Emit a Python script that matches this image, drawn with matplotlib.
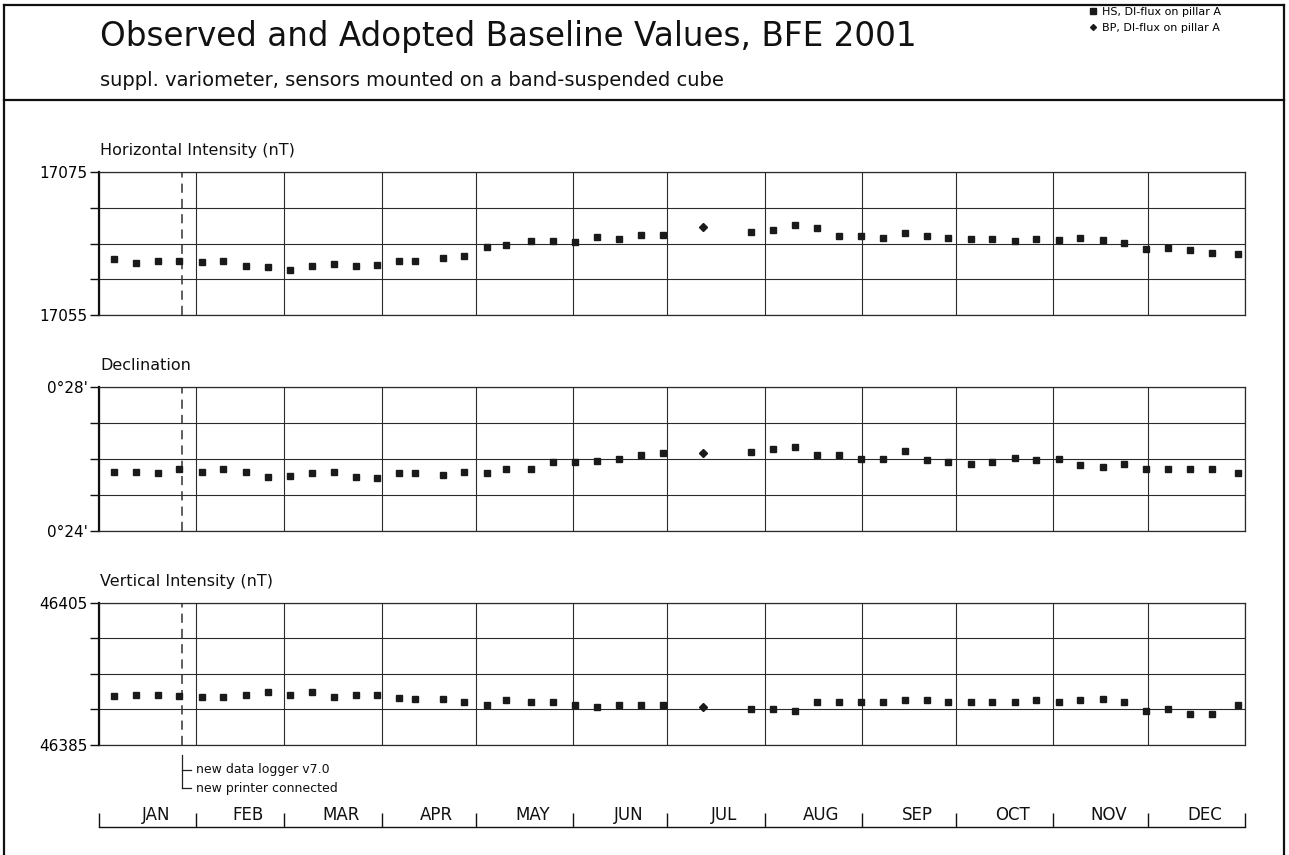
import numpy as np
import matplotlib
matplotlib.use("Agg")
import matplotlib.pyplot as plt
from matplotlib.lines import Line2D
from matplotlib.transforms import blended_transform_factory, ScaledTranslation

plt.rcParams['font.family'] = ['DejaVu Sans']

# ---------------- data ----------------
months = ['JAN', 'FEB', 'MAR', 'APR', 'MAY', 'JUN', 'JUL', 'AUG', 'SEP', 'OCT', 'NOV', 'DEC']
month_days = [31, 28, 31, 30, 31, 30, 31, 31, 30, 31, 30, 31]

# day of year of the HS observations
hs_day = [4.7, 11.75, 18.7, 25.6, 32.7, 39.6, 46.7, 53.7, 60.7, 67.7, 74.8, 81.7, 88.4,
          95.5, 100.5, 109.5, 116.4, 123.5, 129.6, 137.5, 144.5, 151.5, 158.5, 165.5,
          172.5, 179.6, 207.6, 214.6, 221.6, 228.7, 235.6, 242.6, 249.6, 256.7, 263.7,
          270.4, 277.7, 284.4, 291.7, 298.5, 305.7, 312.4, 319.7, 326.4, 333.4, 340.6,
          347.5, 354.5, 362.8]
hs_H = [17062.8, 17062.3, 17062.5, 17062.5, 17062.4, 17062.5, 17061.9, 17061.7, 17061.3,
        17061.9, 17062.1, 17061.9, 17062.0, 17062.5, 17062.5, 17063.0, 17063.3, 17064.5,
        17064.8, 17065.4, 17065.4, 17065.2, 17065.9, 17065.6, 17066.2, 17066.2,
        17066.6, 17066.9, 17067.6, 17067.2, 17066.1, 17066.1, 17065.8, 17066.5, 17066.1,
        17065.8, 17065.6, 17065.6, 17065.4, 17065.6, 17065.5, 17065.8, 17065.5, 17065.1,
        17064.2, 17064.4, 17064.1, 17063.7, 17063.5]
hs_D = [25.65, 25.65, 25.62, 25.71, 25.65, 25.73, 25.65, 25.51, 25.54, 25.60, 25.65, 25.51,
        25.46, 25.60, 25.60, 25.55, 25.65, 25.62, 25.73, 25.71, 25.91, 25.91, 25.95, 26.00,
        26.10, 26.16,
        26.19, 26.29, 26.32, 26.12, 26.10, 26.01, 26.01, 26.21, 25.96, 25.91, 25.87, 25.91,
        26.04, 25.98, 25.99, 25.82, 25.79, 25.85, 25.73, 25.71, 25.73, 25.73, 25.62]
hs_Z = [46391.9, 46392.1, 46392.0, 46391.9, 46391.8, 46391.7, 46392.0, 46392.4, 46392.1,
        46392.5, 46391.8, 46392.1, 46392.0, 46391.6, 46391.5, 46391.5, 46391.0, 46390.7,
        46391.3, 46391.0, 46391.0, 46390.6, 46390.4, 46390.7, 46390.6, 46390.7,
        46390.0, 46390.1, 46389.8, 46391.0, 46391.0, 46391.0, 46391.0, 46391.3, 46391.3,
        46391.1, 46391.0, 46391.1, 46391.1, 46391.4, 46391.0, 46391.4, 46391.5, 46391.0,
        46389.8, 46390.1, 46389.3, 46389.4, 46390.7]

bp_day = [192.5]
bp_H = [17067.3]
bp_D = [26.17]
bp_Z = [46390.3]

event_day = 26.4
event_labels = ['new data logger v7.0', 'new printer connected']

H_ticks = [17055, 17060, 17065, 17070, 17075]
H_labels = ['17055', '', '', '', '17075']
D_ticks = [24, 25, 26, 27, 28]
D_labels = ["0°24'", '', '', '', "0°28'"]
Z_ticks = [46385, 46390, 46395, 46400, 46405]
Z_labels = ['46385', '', '', '', '46405']

panel_titles = ['Horizontal Intensity (nT)', 'Declination', 'Vertical Intensity (nT)']
title = 'Observed and Adopted Baseline Values, BFE 2001'
subtitle = 'suppl. variometer, sensors mounted on a band-suspended cube'
legend_labels = ['HS, DI-flux on pillar A', 'BP, DI-flux on pillar A']

# ---------------- figure ----------------
W, H = 1289, 855
fig = plt.figure(figsize=(W / 100, H / 100), dpi=100)
fig.patch.set_facecolor('white')

def fx(px):
    return px / W

def fy(py):
    return 1 - py / H

bounds = np.concatenate([[0], np.cumsum(month_days)])
x_left, x_right = 99, 1245
panels = [(172, 315), (387, 531), (603, 745)]
series = [(hs_H, bp_H, H_ticks, H_labels), (hs_D, bp_D, D_ticks, D_labels),
          (hs_Z, bp_Z, Z_ticks, Z_labels)]

axes = []
for (top, bot), (hs_v, bp_v, ticks, labels), ptitle in zip(panels, series, panel_titles):
    ax = fig.add_axes([fx(x_left), fy(bot), fx(x_right - x_left), (bot - top) / H])
    ax.set_xlim(0, bounds[-1])
    ax.set_ylim(ticks[0], ticks[-1])
    ax.set_xticks(bounds)
    ax.set_xticklabels([])
    ax.tick_params(axis='x', length=0)
    ax.set_yticks(ticks)
    ax.set_yticklabels(labels)
    ax.tick_params(axis='y', length=6.5, width=1.0, direction='out', pad=1.5,
                   labelsize=11, color='#111111')
    ax.grid(True, color='#2a2a2a', linewidth=0.8)
    ax.set_axisbelow(True)
    for s in ['top', 'bottom', 'right']:
        ax.spines[s].set_linewidth(0.9)
        ax.spines[s].set_color('#2a2a2a')
    ax.spines['left'].set_linewidth(1.6)
    ax.spines['left'].set_color('#111111')
    ax.axvline(event_day, color='#333333', linewidth=1.1, linestyle=(0, (6, 4)), zorder=2)
    l1, = ax.plot(hs_day, hs_v, linestyle='none', marker='s', markersize=5.0,
                  color='#1a1a1a', zorder=3)
    l2, = ax.plot(bp_day, bp_v, linestyle='none', marker='D', markersize=4.0,
                  color='#1a1a1a', zorder=3)
    ax.annotate(ptitle, xy=(0, 1), xycoords='axes fraction', xytext=(1, 12),
                textcoords='offset points', ha='left', va='baseline', fontsize=11.5,
                color='#111111')
    axes.append(ax)

# ---------------- month axis ----------------
axm = fig.add_axes([fx(x_left), fy(827), fx(x_right - x_left), 0.03])
axm.set_xlim(0, bounds[-1])
axm.set_ylim(0, 1)
axm.patch.set_visible(False)
for s in ['top', 'left', 'right']:
    axm.spines[s].set_visible(False)
axm.spines['bottom'].set_linewidth(1.0)
axm.spines['bottom'].set_color('#111111')
axm.set_yticks([])
axm.set_xticks(bounds)
axm.set_xticklabels([])
axm.tick_params(axis='x', direction='in', length=10, width=1.0, color='#111111')
mids = (bounds[:-1] + bounds[1:]) / 2
mtrans = axm.get_xaxis_transform() + ScaledTranslation(8 / 100, 3 / 100, fig.dpi_scale_trans)
for m, name in zip(mids, months):
    axm.text(m, 0, name, transform=mtrans, ha='center', va='bottom', fontsize=12,
             color='#111111')

# ---------------- event annotation ----------------
tr = blended_transform_factory(axes[2].transData, fig.transFigure)
tr_txt = tr + ScaledTranslation(14 / 100, 0, fig.dpi_scale_trans)
fig.add_artist(Line2D([event_day, event_day], [fy(755), fy(788)], transform=tr,
                      color='#222222', linewidth=0.9))
x0_disp = axes[2].transData.transform((event_day, 0))[0]
for yy, lab in zip([770, 788], event_labels):
    fig.add_artist(Line2D([fx(x0_disp), fx(x0_disp + 9)], [fy(yy), fy(yy)],
                          transform=fig.transFigure, color='#222222', linewidth=0.9))
    fig.text(event_day, fy(yy), lab, transform=tr_txt, ha='left', va='center',
             fontsize=9, color='#111111')

# ---------------- header / frame ----------------
fig.text(fx(100), fy(46), title, fontsize=23.5, ha='left', va='baseline', color='#111111')
fig.text(fx(100), fy(86), subtitle, fontsize=14, ha='left', va='baseline', color='#111111')

frame_kw = dict(transform=fig.transFigure, color='#111111', linewidth=1.6)
fig.add_artist(Line2D([fx(4), fx(1284)], [fy(5), fy(5)], **frame_kw))
fig.add_artist(Line2D([fx(4), fx(1284)], [fy(100), fy(100)], **frame_kw))
fig.add_artist(Line2D([fx(4), fx(4)], [fy(5), 0], **frame_kw))
fig.add_artist(Line2D([fx(1284), fx(1284)], [fy(5), 0], **frame_kw))

# legend
fig.legend(handles=[l1, l2], labels=legend_labels, loc='upper left',
           bbox_to_anchor=(fx(1089), fy(7)), frameon=False, fontsize=8,
           markerscale=0.75, handlelength=0.7, handletextpad=0.5, labelspacing=0.55,
           borderpad=0.0, borderaxespad=0.0)

fig.savefig('out.png', dpi=100, facecolor='white')
